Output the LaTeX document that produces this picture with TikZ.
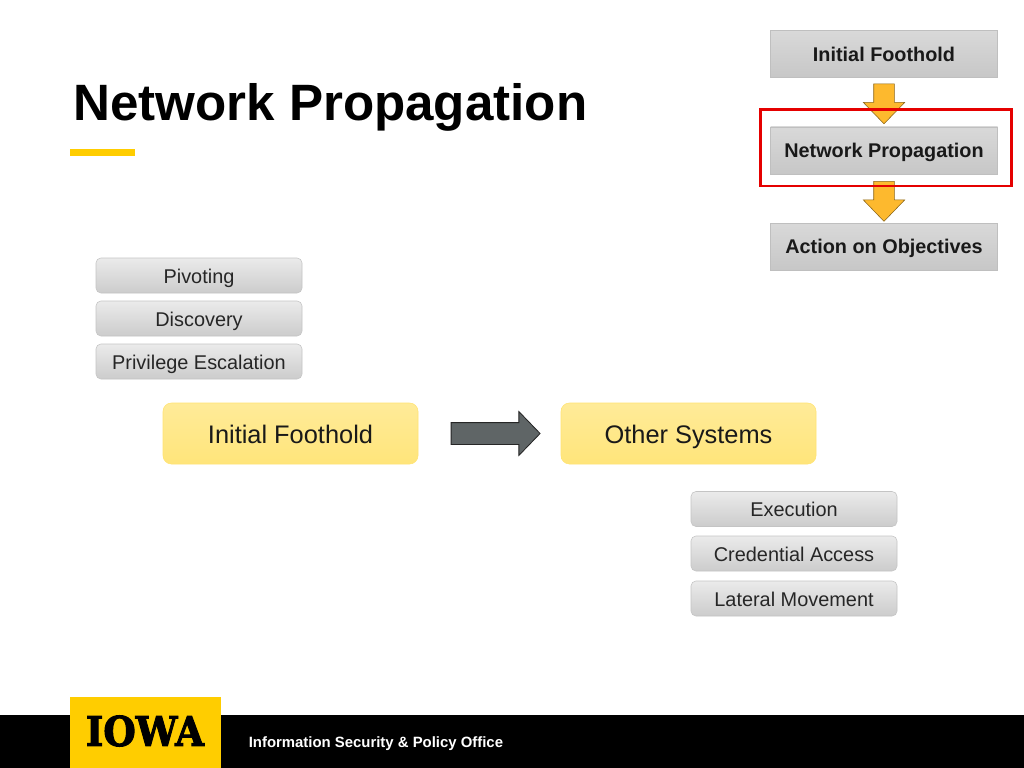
\documentclass[tikz,border=0pt]{standalone}
\usepackage{fontspec}
\setmainfont{Liberation Sans}
\newfontfamily\logofont[UprightFont=* Bold, FakeBold=2.5]{DejaVu Serif}
\usetikzlibrary{shapes.arrows}
\definecolor{iowagold}{HTML}{FFCD00}
\definecolor{arrowgold}{HTML}{FDB92E}
\definecolor{arrowgrey}{HTML}{5F6566}
\definecolor{boxedge}{HTML}{C4C4C4}
\tikzset{
  greybox/.style = {
    draw=boxedge, rounded corners=3.5pt, top color=black!8, bottom color=black!20,
    minimum width=206*0.025cm, minimum height=35*0.025cm, inner sep=0pt,
    font=\fontsize{14.15}{16}\selectfont, text=black!85, text height=13.4pt, text depth=2.6pt
  },
  yellowbox/.style = {
    draw=iowagold!55, rounded corners=6pt, top color=iowagold!40, bottom color=iowagold!52,
    minimum width=255*0.025cm, minimum height=61*0.025cm, inner sep=0pt,
    font=\fontsize{18.05}{22}\selectfont, text=black!90, text height=16.9pt, text depth=3.3pt
  },
  stepbox/.style = {
    draw=black!25, top color=black!15, bottom color=black!22, minimum width=227*0.025cm, minimum height=47*0.025cm,
    inner sep=0pt, font=\bfseries\fontsize{14.1}{18}\selectfont, text=black!90, text height=12.7pt, text depth=2.6pt
  },
  downarrow/.style = {
    single arrow, draw=black!45!arrowgold, fill=arrowgold, rotate=-90, inner sep=10*0.025cm,
    minimum height=40*0.025cm, minimum width=41*0.025cm,
    single arrow head extend=10.5*0.025cm, single arrow tip angle=88
  },
  rightarrow/.style = {
    single arrow, draw=black!85, fill=arrowgrey, inner sep=10.5*0.025cm, line width=0.6pt,
    minimum height=89*0.025cm, minimum width=43*0.025cm,
    single arrow head extend=11*0.025cm, single arrow tip angle=92
  },
}
\begin{document}
\begin{tikzpicture}[x=0.025cm, y=-0.025cm]
	\useasboundingbox (0,0) rectangle (1024,768);
	\fill[white] (0,0) rectangle (1024,768);

	% footer
	\fill[black] (0,715) rectangle (1024,768);
	\fill[iowagold] (70,697) rectangle (221,768);
	\node[font=\logofont\fontsize{27}{27}\selectfont, inner sep=0pt, xscale=0.98, yscale=1.08] (logo) at (145,731) {IOWA};
	\node[anchor=west, text=white, inner sep=0pt, font=\bfseries\fontsize{10.6}{12}\selectfont, text height=9.5pt, text depth=1.95pt] (office) at (248.5,742) {Information Security \& Policy Office};

	% title
	\node[anchor=west, inner sep=0pt, font=\bfseries\fontsize{36.35}{40}\selectfont, text height=32.7pt, text depth=6.7pt] (title) at (73,102) {Network Propagation};
	\fill[iowagold] (70,149) rectangle (135,156);

	% steps in the corner
	\node[stepbox] (foothold) at (884,54) {Initial Foothold};
	\node[stepbox] (propagation) at (884,150.5) {Network Propagation};
	\node[stepbox] (objectives) at (884,246.5) {Action on Objectives};
	\node[downarrow] (arrowa) at (884,98.5) {};
	\node[downarrow] (arrowb) at (884,196) {};
	\draw[red!90!black, line width=2pt] (760.5,109.5) rectangle (1011.5,186);

	% left group
	\node[greybox] (pivoting) at (199,275.5) {Pivoting};
	\node[greybox] (discovery) at (199,318.5) {Discovery};
	\node[greybox] (privilege) at (199,361.5) {Privilege Escalation};

	% middle row
	\node[yellowbox] (initial) at (290.5,433.5) {Initial Foothold};
	\node[yellowbox] (other) at (688.5,433.5) {Other Systems};
	\node[rightarrow] (move) at (490.3,433.5) {};

	% right group
	\node[greybox] (execution) at (794,509) {Execution};
	\node[greybox] (credential) at (794,553.5) {Credential Access};
	\node[greybox] (lateral) at (794,598.5) {Lateral Movement};
\end{tikzpicture}
\end{document}
